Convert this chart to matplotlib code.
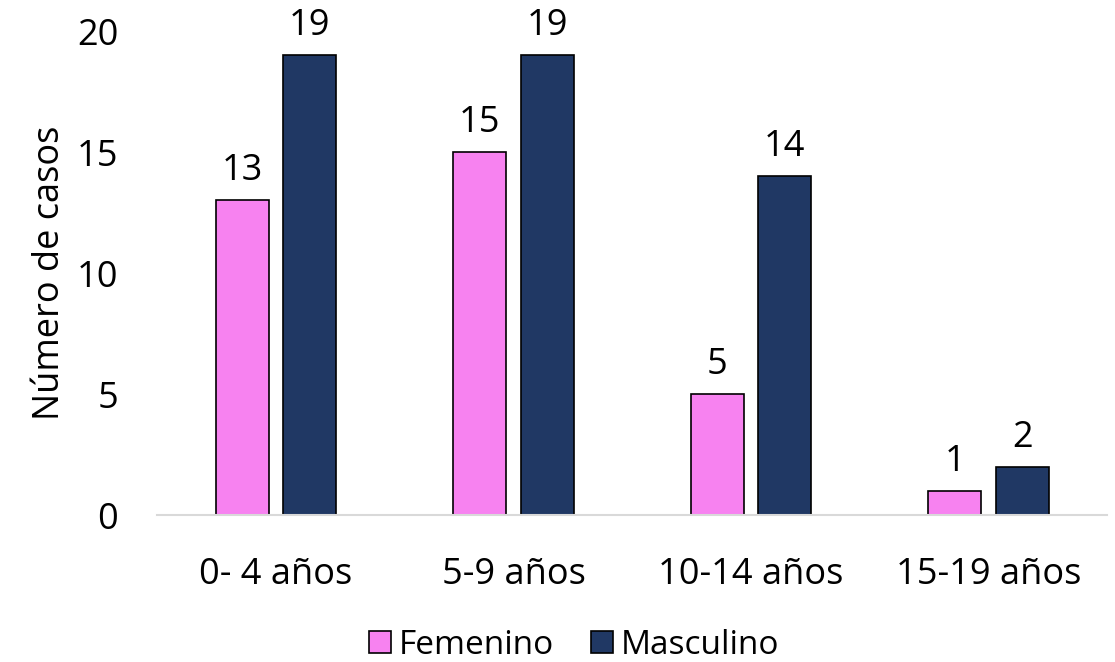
import matplotlib.pyplot as plt
import numpy as np

plt.rcParams['font.family'] = ['Open Sans', 'DejaVu Sans']

categorias = ["0- 4 años", "5-9 años", "10-14 años", "15-19 años"]
femenino = [13, 15, 5, 1]
masculino = [19, 19, 14, 2]

rosa = "#F782F0"
azul = "#203864"
fs = 26

fig = plt.figure(figsize=(11.15, 6.62), dpi=100)
ax = fig.add_axes([0.141, 0.222, 0.852, 0.731])

x = np.arange(len(categorias))
ancho = 0.224
off = 0.142
b1 = ax.bar(x - off, femenino, ancho, color=rosa, edgecolor="black", linewidth=1.2, label="Femenino")
b2 = ax.bar(x + off, masculino, ancho, color=azul, edgecolor="black", linewidth=1.2, label="Masculino")

for barras in (b1, b2):
    ax.bar_label(barras, padding=8, fontsize=fs, clip_on=False)

ax.set_xlim(-0.5, len(categorias) - 0.5)
ax.set_ylim(0, 20)
ax.set_yticks([0, 5, 10, 15, 20])
ax.set_xticks(x)
ax.set_xticklabels(categorias, fontsize=fs)
ax.tick_params(axis="y", labelsize=fs, length=0, pad=28)
ax.tick_params(axis="x", length=0, pad=30)
ax.set_ylabel("Número de casos", fontsize=fs, labelpad=6)

for s in ["top", "right", "left"]:
    ax.spines[s].set_visible(False)
ax.spines["bottom"].set_color("#d9d9d9")
ax.spines["bottom"].set_linewidth(1.5)

fig.legend(loc="lower center", bbox_to_anchor=(0.515, -0.045), ncol=2, frameon=False,
           fontsize=24, handlelength=0.65, handleheight=0.65, handletextpad=0.25, columnspacing=1.1)

fig.savefig("out.png", dpi=100)
